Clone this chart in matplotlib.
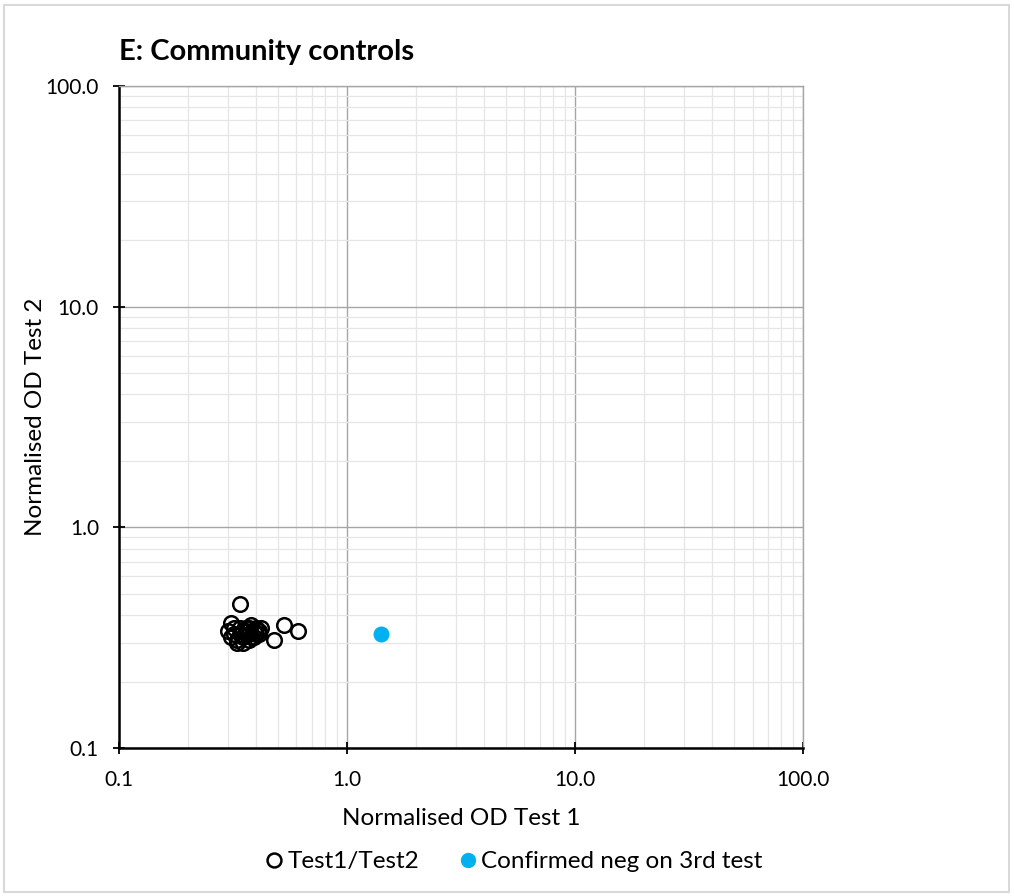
import matplotlib.pyplot as plt
from matplotlib.lines import Line2D
from matplotlib.patches import Rectangle
from matplotlib.ticker import FixedLocator, LogLocator, NullFormatter

plt.rcParams['font.family'] = ['Lato', 'DejaVu Sans']

# Normalised OD values, Test 1 (x) vs Test 2 (y)
test1 = [0.34, 0.31, 0.53, 0.61, 0.48, 0.30, 0.32, 0.33, 0.34, 0.35, 0.36,
         0.37, 0.38, 0.39, 0.40, 0.41, 0.42, 0.33, 0.35, 0.37, 0.39, 0.34,
         0.36, 0.38, 0.40, 0.31, 0.32, 0.35, 0.37, 0.41]
test2 = [0.45, 0.37, 0.36, 0.34, 0.31, 0.34, 0.33, 0.31, 0.35, 0.32, 0.34,
         0.33, 0.36, 0.32, 0.35, 0.33, 0.35, 0.30, 0.30, 0.31, 0.34, 0.33,
         0.35, 0.32, 0.33, 0.32, 0.35, 0.34, 0.35, 0.34]

# Sample confirmed negative on a third test
neg3_x = [1.41]
neg3_y = [0.33]

tick_values = [0.1, 1, 10, 100]
tick_labels = ['0.1', '1.0', '10.0', '100.0']

fig = plt.figure(figsize=(10.14, 8.96), dpi=100)
fig.patches.append(Rectangle((0.004, 0.005), 0.991, 0.989, transform=fig.transFigure,
                             fill=False, edgecolor='#d9d9d9', linewidth=1.5))
ax = fig.add_axes([0.1174, 0.1652, 0.6746, 0.7388])

ax.set_xscale('log')
ax.set_yscale('log')
ax.set_xlim(0.1, 100)
ax.set_ylim(0.1, 100)

for axis in (ax.xaxis, ax.yaxis):
    axis.set_major_locator(FixedLocator(tick_values))
    axis.set_minor_locator(LogLocator(base=10, subs=range(2, 10)))
    axis.set_minor_formatter(NullFormatter())
ax.set_xticklabels(tick_labels)
ax.set_yticklabels(tick_labels)

ax.grid(True, which='minor', color='#e6e6e6', linewidth=0.9)
ax.grid(True, which='major', color='#a6a6a6', linewidth=1.0)
ax.set_axisbelow(True)

ax.tick_params(which='major', direction='inout', length=9, width=1.3,
               labelsize=15, colors='black')
ax.tick_params(axis='x', which='major', pad=11)
ax.tick_params(axis='y', which='major', pad=10)
ax.tick_params(which='minor', length=0)

for side in ('top', 'right'):
    ax.spines[side].set_color('#a6a6a6')
    ax.spines[side].set_linewidth(1.0)
for side in ('left', 'bottom'):
    ax.spines[side].set_color('black')
    ax.spines[side].set_linewidth(1.8)

ax.plot(test1, test2, linestyle='none', marker='o', markersize=10.5,
        markerfacecolor='none', markeredgecolor='black', markeredgewidth=1.8,
        clip_on=False, zorder=3)
ax.plot(neg3_x, neg3_y, linestyle='none', marker='o', markersize=10.5,
        markerfacecolor='#00b0f0', markeredgecolor='#00b0f0', zorder=3)

ax.set_xlabel('Normalised OD Test 1', fontsize=17.5, labelpad=13)
ax.set_ylabel('Normalised OD Test 2', fontsize=17.5, labelpad=0)

fig.text(0.1174, 0.942, 'E: Community controls', fontsize=21, fontweight='bold',
         ha='left', va='center')

handles = [
    Line2D([], [], linestyle='none', marker='o', markersize=10,
           markerfacecolor='none', markeredgecolor='black', markeredgewidth=1.8),
    Line2D([], [], linestyle='none', marker='o', markersize=10,
           markerfacecolor='#00b0f0', markeredgecolor='#00b0f0'),
]
fig.legend(handles, ['Test1/Test2', 'Confirmed neg on 3rd test'], loc='center',
           bbox_to_anchor=(0.505, 0.038), ncol=2, frameon=False, fontsize=17.5,
           handletextpad=0.05, columnspacing=1.5, handlelength=1.0)

fig.savefig('out.png', dpi=100)
